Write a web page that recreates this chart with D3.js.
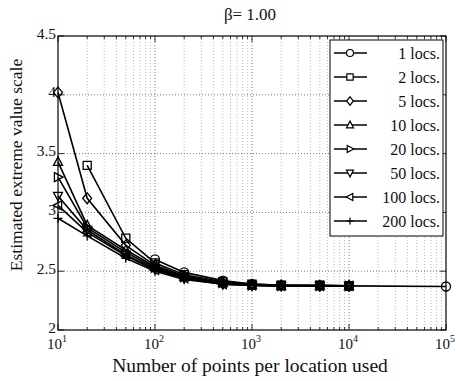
<!DOCTYPE html>
<html>
<head>
<meta charset="utf-8">
<script src="https://cdn.jsdelivr.net/npm/d3@7"></script>
<style>
  body { margin: 0; background: #fff; }
  text { font-family: "Liberation Serif", "DejaVu Serif", serif; fill: #111; }
</style>
</head>
<body>
<div id="chart-area"></div>
<script>
// data
const xs = [10, 20, 50, 100, 200, 500, 1000, 2000, 5000, 10000, 100000];
const loc1   = [null, null, null, 2.60, 2.49, 2.42, 2.39, 2.38, 2.38, 2.375, 2.37];
const loc2   = [null, 3.40, 2.78, 2.57, 2.47, 2.41, 2.39, 2.38, 2.38, 2.375, null];
const loc5   = [4.02, 3.12, 2.72, 2.55, 2.46, 2.40, 2.385, 2.38, 2.375, 2.375, null];
const loc10  = [3.43, 2.89, 2.68, 2.54, 2.45, 2.40, 2.38, 2.375, 2.375, 2.375, null];
const loc20  = [3.30, 2.87, 2.66, 2.53, 2.45, 2.40, 2.38, 2.375, 2.375, 2.375, null];
const loc50  = [3.14, 2.85, 2.64, 2.52, 2.44, 2.39, 2.38, 2.375, 2.375, 2.375, null];
const loc100 = [3.06, 2.83, 2.63, 2.51, 2.44, 2.39, 2.38, 2.375, 2.375, 2.375, null];
const loc200 = [2.95, 2.80, 2.61, 2.50, 2.43, 2.39, 2.38, 2.375, 2.375, 2.375, null];
const names = ["1 locs.", "2 locs.", "5 locs.", "10 locs.", "20 locs.", "50 locs.", "100 locs.", "200 locs."];
const yTicks = [2, 2.5, 3, 3.5, 4, 4.5];
const xDecades = [1, 2, 3, 4, 5];

const series = [
  {name: names[0], vals: loc1,   marker: "circle"},
  {name: names[1], vals: loc2,   marker: "square"},
  {name: names[2], vals: loc5,   marker: "diamond"},
  {name: names[3], vals: loc10,  marker: "up"},
  {name: names[4], vals: loc20,  marker: "right"},
  {name: names[5], vals: loc50,  marker: "down"},
  {name: names[6], vals: loc100, marker: "left"},
  {name: names[7], vals: loc200, marker: "plus"}
];

const margin = {top: 36, right: 10, bottom: 51, left: 58},
  width = 456 - margin.left - margin.right,
  height = 381 - margin.top - margin.bottom;

const svg = d3.select("#chart-area")
  .append("svg")
  .attr("width", 456)
  .attr("height", 381);

const g = svg.append("g")
  .attr("transform", "translate(" + margin.left + "," + margin.top + ")");

const x = d3.scaleLog().domain([10, 100000]).range([0, width]);
const y = d3.scaleLinear().domain([2, 4.5]).range([height, 0]);

// minor log values (2..9 per decade)
let minors = [];
for (let e = 1; e < 5; e++) {
  for (let m = 2; m <= 9; m++) minors.push(m * Math.pow(10, e));
}

// grid
g.append("g").selectAll("line").data(minors).enter().append("line")
  .attr("x1", d => x(d)).attr("x2", d => x(d))
  .attr("y1", 0).attr("y2", height)
  .attr("stroke", "#aaa").attr("stroke-width", 0.8)
  .attr("stroke-dasharray", "1,2");

g.append("g").selectAll("line").data(xDecades.slice(1, 4)).enter().append("line")
  .attr("x1", d => x(Math.pow(10, d))).attr("x2", d => x(Math.pow(10, d)))
  .attr("y1", 0).attr("y2", height)
  .attr("stroke", "#555").attr("stroke-width", 0.8)
  .attr("stroke-dasharray", "1,2");

g.append("g").selectAll("line").data(yTicks.slice(1, 5)).enter().append("line")
  .attr("x1", 0).attr("x2", width)
  .attr("y1", d => y(d)).attr("y2", d => y(d))
  .attr("stroke", "#555").attr("stroke-width", 0.8)
  .attr("stroke-dasharray", "1,2");

// tick marks inside, on all four sides
const tk = g.append("g").attr("stroke", "#000").attr("stroke-width", 0.8);
minors.forEach(v => {
  tk.append("line").attr("x1", x(v)).attr("x2", x(v)).attr("y1", height).attr("y2", height - 3);
  tk.append("line").attr("x1", x(v)).attr("x2", x(v)).attr("y1", 0).attr("y2", 3);
});
xDecades.forEach(e => {
  const v = Math.pow(10, e);
  tk.append("line").attr("x1", x(v)).attr("x2", x(v)).attr("y1", height).attr("y2", height - 6);
  tk.append("line").attr("x1", x(v)).attr("x2", x(v)).attr("y1", 0).attr("y2", 6);
});
yTicks.forEach(v => {
  tk.append("line").attr("x1", 0).attr("x2", 6).attr("y1", y(v)).attr("y2", y(v));
  tk.append("line").attr("x1", width).attr("x2", width - 6).attr("y1", y(v)).attr("y2", y(v));
});

// box
g.append("rect").attr("width", width).attr("height", height)
  .attr("fill", "none").attr("stroke", "#000").attr("stroke-width", 1.2);

// tick labels
g.append("g").selectAll("text").data(yTicks).enter().append("text")
  .attr("x", -2).attr("y", d => y(d) + 2.5)
  .attr("text-anchor", "end").attr("font-size", "15.5px")
  .text(d => d3.format("")(d));

const xl = g.append("g").selectAll("text").data(xDecades).enter().append("text")
  .attr("x", d => x(Math.pow(10, d)) - 1).attr("y", height + 19)
  .attr("text-anchor", "middle").attr("font-size", "15px");
xl.append("tspan").text("10");
xl.append("tspan").attr("dy", -7).attr("font-size", "10px").text(d => d);

// axis labels and title
svg.append("text")
  .attr("x", margin.left + width / 2 - 2).attr("y", 372)
  .attr("text-anchor", "middle").attr("font-size", "19.5px")
  .text("Number of points per location used");

svg.append("text")
  .attr("transform", "rotate(-90)")
  .attr("x", -(margin.top + height / 2) + 18).attr("y", 22)
  .attr("text-anchor", "middle").attr("font-size", "17.5px")
  .text("Estimated extreme value scale");

svg.append("text")
  .attr("x", margin.left + width / 2 - 2).attr("y", 20)
  .attr("text-anchor", "middle").attr("font-size", "17px")
  .text("β= 1.00");

// markers
function markerPath(type, s) {
  const p = d3.path();
  switch (type) {
    case "circle": p.arc(0, 0, s, 0, 2 * Math.PI); break;
    case "square": p.rect(-s * 0.9, -s * 0.9, s * 1.8, s * 1.8); break;
    case "diamond": p.moveTo(0, -s * 1.2); p.lineTo(s, 0); p.lineTo(0, s * 1.2); p.lineTo(-s, 0); p.closePath(); break;
    case "up": p.moveTo(0, -s * 1.1); p.lineTo(s, s * 0.8); p.lineTo(-s, s * 0.8); p.closePath(); break;
    case "down": p.moveTo(0, s * 1.1); p.lineTo(s, -s * 0.8); p.lineTo(-s, -s * 0.8); p.closePath(); break;
    case "right": p.moveTo(s * 1.1, 0); p.lineTo(-s * 0.8, s); p.lineTo(-s * 0.8, -s); p.closePath(); break;
    case "left": p.moveTo(-s * 1.1, 0); p.lineTo(s * 0.8, s); p.lineTo(s * 0.8, -s); p.closePath(); break;
    case "plus": p.moveTo(-s, 0); p.lineTo(s, 0); p.moveTo(0, -s); p.lineTo(0, s); break;
  }
  return p.toString();
}

const line = d3.line()
  .defined(d => d.v !== null)
  .x(d => x(d.x)).y(d => y(d.v));

const plot = g.append("g");
series.forEach(s => {
  const pts = xs.map((xv, i) => ({x: xv, v: s.vals[i]}));
  plot.append("path")
    .attr("d", line(pts))
    .attr("fill", "none").attr("stroke", "#000").attr("stroke-width", 1.6);
  plot.append("g").selectAll("path").data(pts.filter(d => d.v !== null)).enter().append("path")
    .attr("transform", d => "translate(" + x(d.x) + "," + y(d.v) + ")")
    .attr("d", markerPath(s.marker, 4.5))
    .attr("fill", "none").attr("stroke", "#000").attr("stroke-width", 1.3);
});

// legend
const leg = svg.append("g").attr("transform", "translate(330,40)");
leg.append("rect").attr("width", 113).attr("height", 196)
  .attr("fill", "#fff").attr("stroke", "#000").attr("stroke-width", 1);
series.forEach((s, i) => {
  const ly = 13 + i * 24;
  leg.append("line").attr("x1", 4).attr("x2", 37).attr("y1", ly).attr("y2", ly)
    .attr("stroke", "#000").attr("stroke-width", 1.6);
  leg.append("path").attr("transform", "translate(20," + ly + ")")
    .attr("d", markerPath(s.marker, 3.5))
    .attr("fill", "#fff").attr("stroke", "#000").attr("stroke-width", 1.2);
  leg.append("text").attr("x", 110).attr("y", ly).attr("dy", "0.35em")
    .attr("text-anchor", "end").attr("font-size", "16px")
    .text(s.name);
});
</script>
</body>
</html>
